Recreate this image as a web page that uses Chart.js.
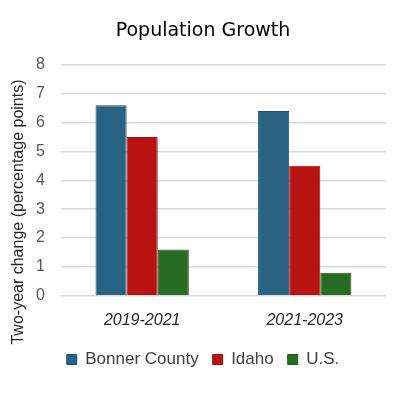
<!DOCTYPE html>
<html>
<head>
<meta charset="utf-8">
<script src="https://cdn.jsdelivr.net/npm/chart.js@4"></script>
<style>
  html, body { margin: 0; padding: 0; background: #fff; }
  #wrap { width: 393px; height: 393px; position: relative; }
</style>
</head>
<body>
<div id="wrap"><canvas id="myChart"></canvas></div>
<script>
// chart data
var categories = ["2019-2021", "2021-2023"];
var bonnerCounty = [6.6, 6.4];
var idaho = [5.5, 4.5];
var us = [1.6, 0.8];
var yTicks = [0, 1, 2, 3, 4, 5, 6, 7, 8];
var yTitle = "Two-year change (percentage points)";

var tickFont = "'Liberation Sans', Arial, sans-serif";

// draws the rotated y-axis title where the original sits
var yTitlePlugin = {
	id: 'yTitle',
	afterDraw: function(chart) {
		var ctx = chart.ctx;
		ctx.save();
		ctx.translate(19, 212);
		ctx.rotate(-Math.PI / 2);
		ctx.font = "16px " + tickFont;
		ctx.fillStyle = '#262626';
		ctx.textAlign = 'center';
		ctx.textBaseline = 'middle';
		ctx.fillText(yTitle, 0, 0);
		ctx.restore();
	}
};

var ctx = document.getElementById('myChart').getContext('2d');
var chart = new Chart(ctx, {
	type: 'bar',
	data: {
		labels: categories,
		datasets: [{
			label: "Bonner County",
			data: bonnerCounty,
			backgroundColor: '#2a6283',
			borderColor: '#1f4f6e',
			borderWidth: 1
		}, {
			label: "Idaho",
			data: idaho,
			backgroundColor: '#b81213',
			borderColor: '#a20f10',
			borderWidth: 1
		}, {
			label: "U.S.",
			data: us,
			backgroundColor: '#286c23',
			borderColor: '#1d5a19',
			borderWidth: 1
		}]
	},
	options: {
		maintainAspectRatio: false,
		responsive: true,
		animation: false,
		layout: {
			padding: { left: 20, right: 7, top: 0, bottom: 15 }
		},
		datasets: {
			bar: {
				categoryPercentage: 0.574,
				barPercentage: 1.0
			}
		},
		plugins: {
			title: {
				display: true,
				text: "Population Growth",
				color: '#000',
				font: { family: "'DejaVu Sans', Verdana, sans-serif", size: 19, weight: 'normal' },
				padding: { top: 20, bottom: 22 }
			},
			legend: {
				position: 'bottom',
				labels: {
					boxWidth: 10,
					boxHeight: 10,
					padding: 14,
					color: '#404040',
					font: { family: tickFont, size: 17 }
				}
			},
			tooltip: { enabled: false }
		},
		scales: {
			x: {
				grid: { display: false },
				border: { display: false },
				ticks: {
					color: '#262626',
					padding: 7,
					font: { family: tickFont, size: 16, style: 'italic' }
				}
			},
			y: {
				min: 0,
				max: 8,
				afterBuildTicks: function(axis) {
					axis.ticks = yTicks.map(function(v) { return { value: v }; });
				},
				grid: { color: '#d9d9d9', lineWidth: 1.5, drawTicks: false },
				border: { display: false },
				ticks: {
					color: '#595959',
					padding: 16,
					font: { family: tickFont, size: 16 }
				}
			}
		}
	},
	plugins: [yTitlePlugin]
});
</script>
</body>
</html>
